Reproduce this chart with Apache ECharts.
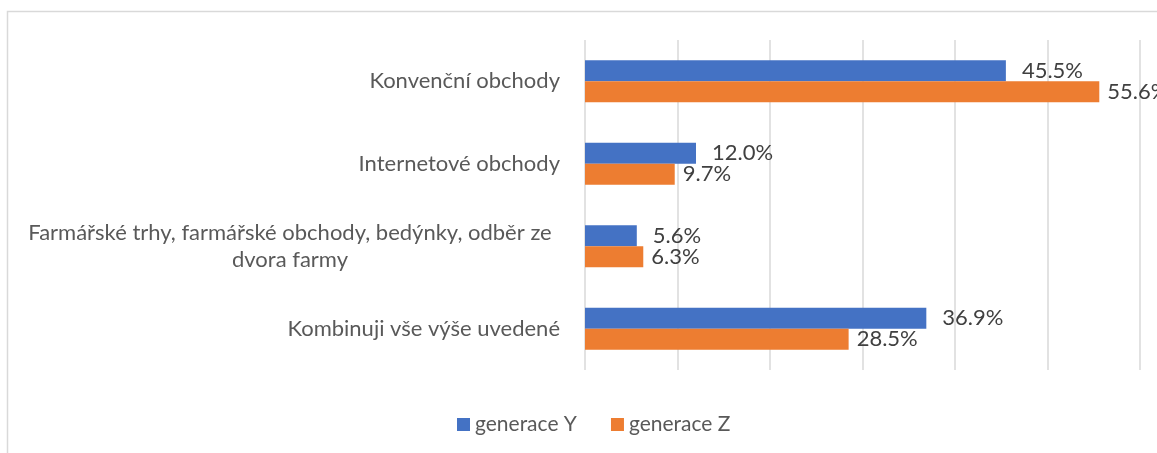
<!DOCTYPE html>
<html>
<head>
<meta charset="utf-8">
<script src="https://cdn.jsdelivr.net/npm/echarts@6/dist/echarts.min.js"></script>
<style>
  html, body { margin: 0; padding: 0; background: #fff; }
  #main { width: 1157px; height: 453px; }
</style>
</head>
<body>
<div id="main"></div>
<script>
const categories = [
  'Konvenční obchody',
  'Internetové obchody',
  'Farmářské trhy, farmářské obchody, bedýnky, odběr ze\ndvora farmy',
  'Kombinuji vše výše uvedené'
];
const genY = [45.5, 12.0, 5.6, 36.9];
const genZ = [55.6, 9.7, 6.3, 28.5];
const seriesNames = ['generace Y', 'generace Z'];

const FONT = 'Lato';
const chart = echarts.init(document.getElementById('main'), null, { renderer: 'canvas' });

const option = {
  backgroundColor: '#fff',
  color: ['#4472C4', '#ED7D31'],
  textStyle: { fontFamily: FONT },
  graphic: [{
    type: 'rect',
    shape: { x: 7.5, y: 11.5, width: 1200, height: 500 },
    style: { fill: 'none', stroke: '#d9d9d9', lineWidth: 1.5 },
    silent: true
  }],
  legend: {
    data: seriesNames,
    left: 452,
    top: 409,
    itemWidth: 13,
    itemHeight: 13,
    itemGap: 34,
    icon: 'rect',
    textStyle: { fontSize: 21, color: '#595959', fontFamily: FONT }
  },
  grid: { left: 585, right: 17, top: 40, bottom: 83, containLabel: false },
  xAxis: {
    type: 'value',
    min: 0,
    max: 60,
    interval: 10,
    axisLabel: { show: false },
    axisLine: { show: false },
    axisTick: { show: false },
    splitLine: { lineStyle: { color: '#d9d9d9', width: 1.5 } }
  },
  yAxis: {
    type: 'category',
    inverse: true,
    data: categories,
    axisLine: { show: false },
    axisTick: { show: false },
    axisLabel: {
      margin: 25,
      fontSize: 22,
      color: '#595959',
      fontFamily: FONT,
      lineHeight: 27,
      formatter: function (v) {
        if (v.indexOf('\n') < 0) return v;
        return v.split('\n').map(s => '{c|' + s + '}').join('\n');
      },
      rich: {
        c: { width: 540, align: 'center', fontSize: 22, color: '#595959', fontFamily: FONT, lineHeight: 27 }
      }
    }
  },
  series: [{
    name: seriesNames[0],
    type: 'bar',
    data: genY,
    barWidth: 21,
    barGap: '0%',
    label: {
      show: true, position: 'right', distance: 16,
      formatter: p => p.value.toFixed(1) + '%',
      fontSize: 22, color: '#404040', fontFamily: FONT
    }
  }, {
    name: seriesNames[1],
    type: 'bar',
    data: genZ,
    barWidth: 21,
    label: {
      show: true, position: 'right', distance: 8,
      formatter: p => p.value.toFixed(1) + '%',
      fontSize: 22, color: '#404040', fontFamily: FONT
    }
  }]
};

chart.setOption(option);
</script>
</body>
</html>
